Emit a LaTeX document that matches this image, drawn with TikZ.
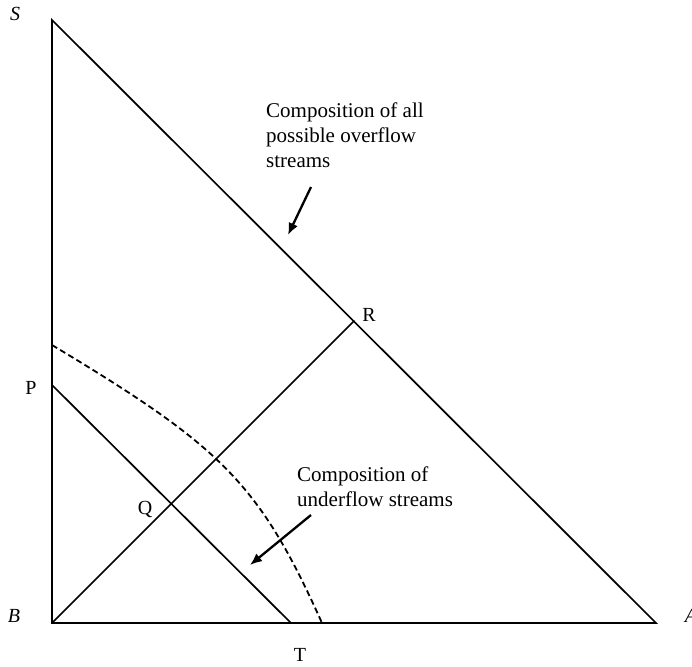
\documentclass[tikz,border=0pt]{standalone}
\usepackage{fontspec}
\setmainfont{Liberation Serif}
\usetikzlibrary{arrows.meta}
\begin{document}
\begin{tikzpicture}[x=1pt,y=-1pt,
  edge/.style={line width=1.7pt,line cap=round,line join=miter},
  pointer/.style={line width=2.3pt,-{Latex[length=12pt,width=10pt]}},
  lbl/.style={font=\fontsize{20}{24}\selectfont,inner sep=0pt},
  note/.style={font=\fontsize{21}{25}\selectfont,inner sep=0pt,align=left,anchor=north west}]
\useasboundingbox (0,0) rectangle (692,666);
\coordinate (S) at (52,20);
\coordinate (B) at (52,623);
\coordinate (A) at (656,623);
\coordinate (R) at (354,321);
\coordinate (P) at (52,385);
\coordinate (T) at (291,623);
\coordinate (Q) at (172,504);
\coordinate (D1) at (52,345);
\coordinate (D2) at (322,623);
\draw[edge] (S) -- (B) -- (A) -- cycle;
\draw[edge] (B) -- (R);
\draw[edge] (P) -- (T);
\draw[line width=1.8pt,dash pattern=on 6pt off 3.5pt] (D1) .. controls (222,447) and (259,483) .. (D2);
\node[lbl,font=\fontsize{20}{24}\selectfont\itshape] (Sl) at (15,14) {S};
\node[lbl,font=\fontsize{20}{24}\selectfont\itshape] (Bl) at (14,616) {B};
\node[lbl,font=\fontsize{20}{24}\selectfont\itshape] (Al) at (691,616) {A};
\node[lbl] (Rl) at (369,315) {R};
\node[lbl] (Pl) at (31,388) {P};
\node[lbl] (Ql) at (145,509) {Q};
\node[lbl] (Tl) at (300,655) {T};
\node[note] (n1) at (266,103) {Composition of all\\possible overflow\\streams};
\node[note] (n2) at (297,467) {Composition of\\underflow streams};
\coordinate (a1s) at (311,187);
\coordinate (a1e) at (288,235);
\coordinate (a2s) at (311,515);
\coordinate (a2e) at (250,565);
\draw[pointer] (a1s) -- (a1e);
\draw[pointer] (a2s) -- (a2e);
\end{tikzpicture}
\end{document}
